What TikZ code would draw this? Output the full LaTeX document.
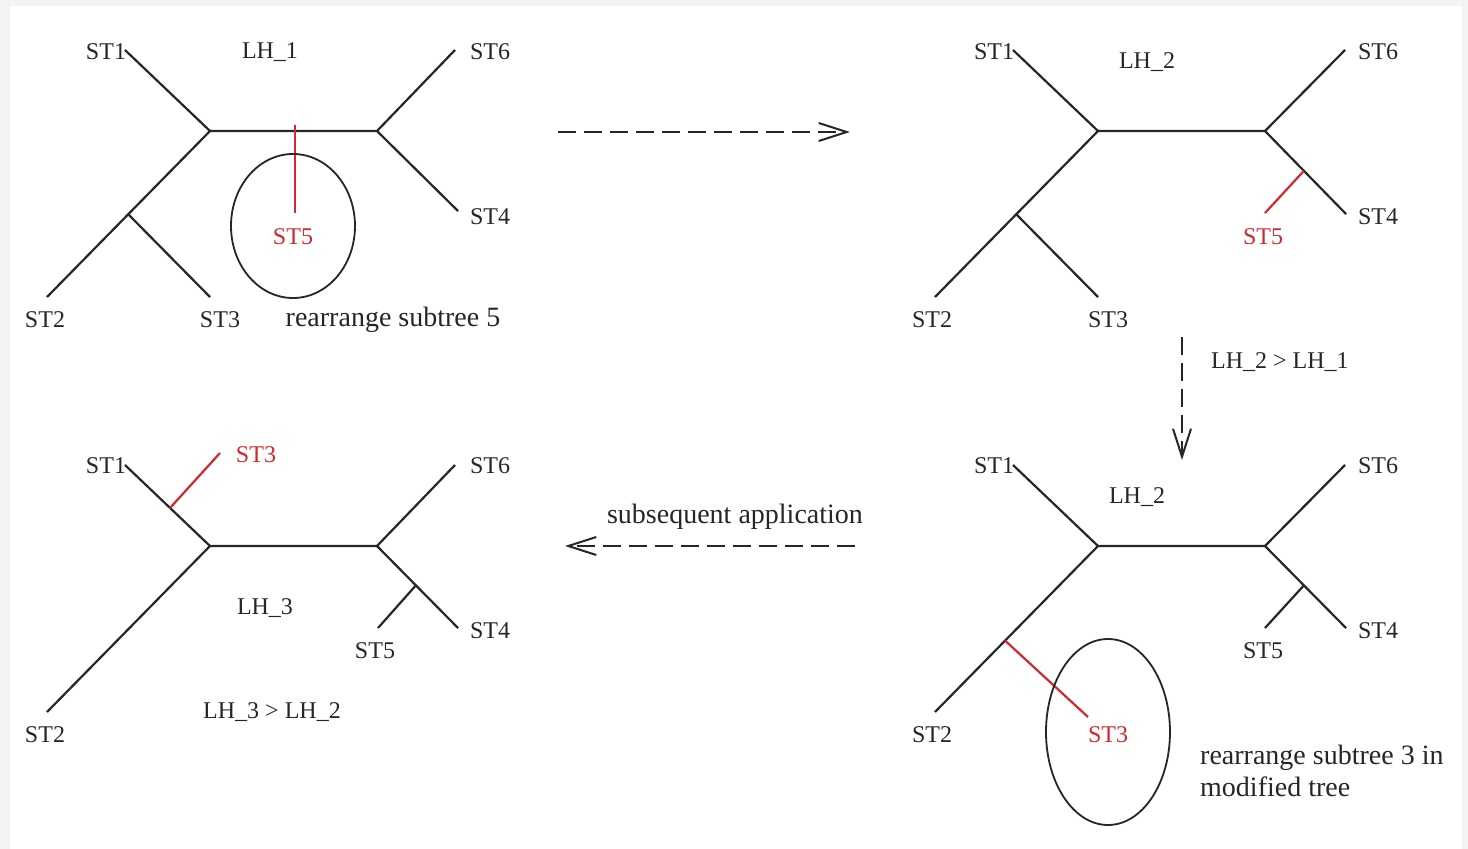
\documentclass[tikz,border=0pt]{standalone}
\usepackage{fontspec}
\setmainfont{Liberation Serif}
\usetikzlibrary{arrows.meta,calc}
\definecolor{redbr}{RGB}{210,40,50}
\definecolor{frame}{RGB}{243,243,243}
\begin{document}
\begin{tikzpicture}[x=1pt,y=-1pt,
  br/.style={line width=2.2pt,black!85},
  redline/.style={line width=2.2pt,redbr},
  lab/.style={font=\fontsize{24}{28}\selectfont,inner sep=0pt,text=black!85},
  redlab/.style={lab,text=redbr},
  txt/.style={font=\fontsize{28}{32}\selectfont,inner sep=0pt,text=black!85},
  circ/.style={draw,line width=1.8pt,black!85},
  flow/.style={line width=2pt,black!85,dash pattern=on 18pt off 8pt,
    -{Straight Barb[length=28pt,width=18pt,line width=2pt]}}]
\useasboundingbox (0,0) rectangle (1468,849);
\fill[frame] (0,0) rectangle (1468,849);
\fill[white] (10,6) rectangle (1462,849);

% ---------- tree 1 (top left) ----------
\coordinate (aL) at (210,131);
\coordinate (aR) at (377,131);
\coordinate (a1) at (125,50);
\coordinate (a6) at (455,50);
\coordinate (a4) at (458,211);
\coordinate (a2) at (47,297);
\coordinate (aM) at (128,214);
\coordinate (a3) at (210,297);
\coordinate (a5t) at (295,125);
\coordinate (a5) at (295,213);
\draw[br] (a1) -- (aL) -- (aR) -- (a6);
\draw[br] (aR) -- (a4);
\draw[br] (aL) -- (a2);
\draw[br] (aM) -- (a3);
\draw[redline] (a5t) -- (a5);
\draw[circ] (293,226) ellipse [x radius=62,y radius=72];
\node[lab] (aST1) at (106,52) {ST1};
\node[lab] (aST6) at (490,52) {ST6};
\node[lab] (aST4) at (490,217) {ST4};
\node[lab] (aST2) at (45,320) {ST2};
\node[lab] (aST3) at (220,320) {ST3};
\node[redlab] (aST5) at (293,237) {ST5};
\node[lab] (aLH) at (270,52) {LH\_1};
\node[txt] (aRe) at (393,320) {rearrange subtree 5};

% ---------- tree 2 (top right) ----------
\coordinate (bL) at (1098,131);
\coordinate (bR) at (1265,131);
\coordinate (b1) at (1013,50);
\coordinate (b6) at (1345,50);
\coordinate (b4) at (1346,214);
\coordinate (b2) at (935,297);
\coordinate (bM) at (1016,214);
\coordinate (b3) at (1098,297);
\coordinate (bJ) at ($(bR)!0.48!(b4)$);
\coordinate (b5) at (1265,213);
\draw[br] (b1) -- (bL) -- (bR) -- (b6);
\draw[br] (bR) -- (b4);
\draw[br] (bL) -- (b2);
\draw[br] (bM) -- (b3);
\draw[redline] (bJ) -- (b5);
\node[lab] (bST1) at (994,52) {ST1};
\node[lab] (bST6) at (1378,52) {ST6};
\node[lab] (bST4) at (1378,217) {ST4};
\node[lab] (bST2) at (932,320) {ST2};
\node[lab] (bST3) at (1108,320) {ST3};
\node[redlab] (bST5) at (1263,237) {ST5};
\node[lab] (bLH) at (1147,62) {LH\_2};

% ---------- tree 3 (bottom right) ----------
\coordinate (cL) at (1098,546);
\coordinate (cR) at (1265,546);
\coordinate (c1) at (1013,465);
\coordinate (c6) at (1345,465);
\coordinate (c4) at (1346,628);
\coordinate (c2) at (935,712);
\coordinate (cJ3) at ($(cL)!0.57!(c2)$);
\coordinate (c3) at (1088,717);
\coordinate (cJ5) at ($(cR)!0.48!(c4)$);
\coordinate (c5) at (1265,628);
\draw[br] (c1) -- (cL) -- (cR) -- (c6);
\draw[br] (cR) -- (c4);
\draw[br] (cL) -- (c2);
\draw[br] (cJ5) -- (c5);
\draw[redline] (cJ3) -- (c3);
\draw[circ] (1108,732) ellipse [x radius=62,y radius=93];
\node[lab] (cST1) at (994,466) {ST1};
\node[lab] (cST6) at (1378,466) {ST6};
\node[lab] (cST4) at (1378,631) {ST4};
\node[lab] (cST5) at (1263,651) {ST5};
\node[lab] (cST2) at (932,735) {ST2};
\node[redlab] (cST3) at (1108,735) {ST3};
\node[lab] (cLH) at (1137,497) {LH\_2};
\node[txt,anchor=west,align=left] (cRe) at (1200,771) {rearrange subtree 3 in\\modified tree};

% ---------- tree 4 (bottom left) ----------
\coordinate (dL) at (210,546);
\coordinate (dR) at (377,546);
\coordinate (d1) at (125,465);
\coordinate (d6) at (455,465);
\coordinate (d4) at (458,628);
\coordinate (d2) at (47,712);
\coordinate (dJ3) at ($(d1)!0.53!(dL)$);
\coordinate (d3) at (220,453);
\coordinate (dJ5) at ($(dR)!0.48!(d4)$);
\coordinate (d5) at (378,628);
\draw[br] (d1) -- (dL) -- (dR) -- (d6);
\draw[br] (dR) -- (d4);
\draw[br] (dL) -- (d2);
\draw[br] (dJ5) -- (d5);
\draw[redline] (dJ3) -- (d3);
\node[lab] (dST1) at (106,466) {ST1};
\node[redlab] (dST3) at (256,455) {ST3};
\node[lab] (dST6) at (490,466) {ST6};
\node[lab] (dST4) at (490,631) {ST4};
\node[lab] (dST5) at (375,651) {ST5};
\node[lab] (dST2) at (45,735) {ST2};
\node[lab] (dLH) at (265,608) {LH\_3};
\node[lab] (dCmp) at (272,712) {LH\_3 > LH\_2};

% ---------- arrows ----------
\coordinate (f1s) at (558,132);
\coordinate (f1e) at (850,132);
\draw[flow] (f1s) -- (f1e);
\coordinate (f2s) at (1182,337);
\coordinate (f2e) at (1182,460);
\draw[flow] (f2s) -- (f2e);
\node[lab,anchor=west] (f2lab) at (1211,362) {LH\_2 > LH\_1};
\coordinate (f3s) at (855,546);
\coordinate (f3e) at (565,546);
\draw[flow] (f3s) -- (f3e);
\node[txt] (f3lab) at (735,517) {subsequent application};
\end{tikzpicture}
\end{document}
